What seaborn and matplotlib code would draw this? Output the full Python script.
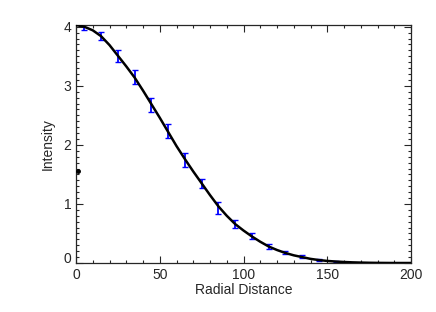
import numpy as np
import pandas as pd
import matplotlib
matplotlib.use('Agg')
import matplotlib.pyplot as plt
import seaborn as sns
from matplotlib.ticker import MultipleLocator, FuncFormatter

# measured points (with error bars)
pt_r = [5, 15, 25, 35, 45, 55, 65, 75, 85, 95, 105, 115, 125, 135, 145, 155]
pt_i = [4.00, 3.84, 3.50, 3.15, 2.68, 2.23, 1.75, 1.35, 0.93, 0.66, 0.45, 0.28, 0.175, 0.11, 0.05, 0.02]
pt_err = [0.05, 0.07, 0.10, 0.12, 0.12, 0.12, 0.12, 0.08, 0.10, 0.07, 0.05, 0.035, 0.025, 0.02, 0.012, 0.008]

# fitted profile
fit_r = [0, 5, 10, 15, 20, 25, 30, 35, 40, 45, 50, 55, 60, 65, 70, 75, 80, 85, 90, 95, 100,
         105, 110, 115, 120, 125, 130, 135, 140, 145, 150, 155, 160, 165, 170, 175, 180,
         185, 190, 195, 200]
fit_i = [4.03, 4.00, 3.94, 3.84, 3.69, 3.51, 3.33, 3.14, 2.92, 2.69, 2.46, 2.22, 1.98, 1.76,
         1.55, 1.35, 1.15, 0.96, 0.80, 0.66, 0.55, 0.45, 0.36, 0.28, 0.22, 0.17, 0.13, 0.10,
         0.07, 0.05, 0.035, 0.025, 0.017, 0.011, 0.007, 0.004, 0.002, 0.001, 0.0, 0.0, 0.0]

# stray point near the axis
odd_r = [1.2]
odd_i = [1.56]

sns.set_style('ticks')
plt.rcParams['font.family'] = ['Liberation Sans', 'DejaVu Sans']

fig = plt.figure(figsize=(4.36, 3.12), dpi=100)
ax = fig.add_axes([76 / 436, 49 / 312, 335 / 436, 238 / 312])

ax.errorbar(pt_r, pt_i, yerr=pt_err, fmt='none', ecolor='#0000ff',
            elinewidth=1.3, capsize=2.2, capthick=1.0, zorder=2)
fit_df = pd.DataFrame({'r': fit_r, 'i': fit_i})
sns.lineplot(data=fit_df, x='r', y='i', color='black', linewidth=1.8, ax=ax, zorder=3)
ax.plot(odd_r, odd_i, 'o', color='black', markersize=2.5, zorder=4)

ax.set_xlim(0, 200)
ax.set_ylim(0, 4.03)
ax.xaxis.set_major_locator(MultipleLocator(50))
ax.xaxis.set_minor_locator(MultipleLocator(10))
ax.yaxis.set_major_locator(MultipleLocator(1))
ax.yaxis.set_minor_locator(MultipleLocator(0.1))
# the zero label on y is drawn by hand below, sitting on the x axis
ax.yaxis.set_major_formatter(FuncFormatter(lambda v, p: '' if abs(v) < 1e-9 else f'{v:g}'))
ax.tick_params(which='both', direction='in', top=True, right=True, labelsize=10, width=0.8)
ax.tick_params(which='major', length=5)
ax.tick_params(which='minor', length=2.5)
for s in ax.spines.values():
    s.set_linewidth(0.9)
    s.set_visible(True)
ax.annotate('0', xy=(0, 0), xycoords=('axes fraction', 'data'), xytext=(-3.5, 0),
            textcoords='offset points', ha='right', va='baseline', fontsize=10)

ax.set_xlabel('Radial Distance', fontsize=10, labelpad=1)
ax.set_ylabel('Intensity', fontsize=10, labelpad=6)

fig.savefig('out.png', dpi=100)
